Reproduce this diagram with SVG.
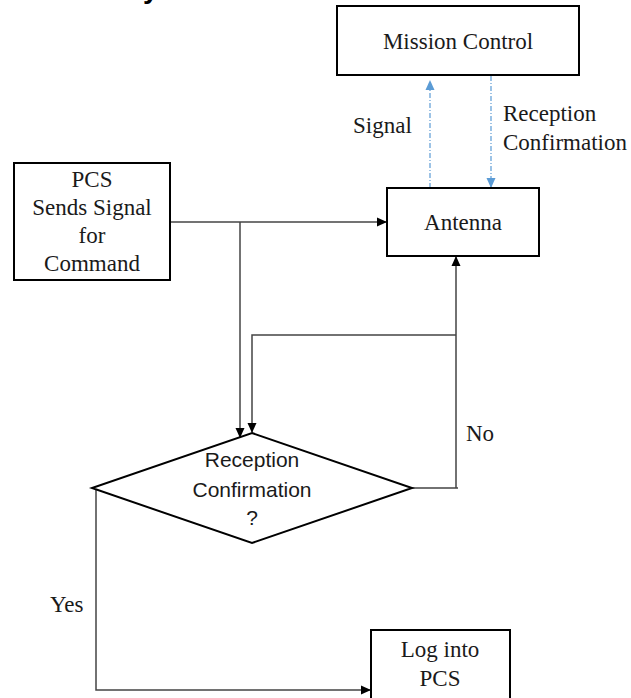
<svg xmlns="http://www.w3.org/2000/svg" width="631" height="698" viewBox="0 0 631 698">
<style>
.box{fill:#fff;stroke:#000;stroke-width:2}
.serif{font-family:'Liberation Serif','DejaVu Serif',serif;font-size:23px;fill:#1a1a1a;text-anchor:middle}
.sans{font-family:'Liberation Sans','DejaVu Sans',sans-serif;font-size:21px;fill:#1a1a1a;text-anchor:middle}
.lbl{font-family:'Liberation Serif','DejaVu Serif',serif;font-size:23px;fill:#1a1a1a}
.conn{fill:none;stroke:#444;stroke-width:1.5}
.blue{fill:none;stroke:#5b9bd5;stroke-width:1.2;stroke-dasharray:5 2 1 2}
</style>
<defs>
<marker id="ah" markerWidth="10" markerHeight="10" refX="9" refY="5" orient="auto" markerUnits="userSpaceOnUse">
<path d="M0,0.5 L10,5 L0,9.5 Z" fill="#000"/>
</marker>
<marker id="ahb" markerWidth="10" markerHeight="10" refX="9" refY="5" orient="auto" markerUnits="userSpaceOnUse">
<path d="M0,0.5 L10,5 L0,9.5 Z" fill="#5b9bd5"/>
</marker>
</defs>
<text x="143" y="-2" font-family="'Liberation Sans',Arial,sans-serif" font-size="28" font-weight="bold" fill="#000">y</text>
<g id="connectors">
<path class="conn" d="M170,222 H386" marker-end="url(#ah)"/>
<path class="conn" d="M240,222 V437" marker-end="url(#ah)"/>
<path class="conn" d="M456,335 H252 V432" marker-end="url(#ah)"/>
<path class="conn" d="M412,488 H458 M456,488 V257" marker-end="url(#ah)"/>
<path class="conn" d="M96,490 V690 H370" marker-end="url(#ah)"/>
<path class="blue" d="M430,188 V81" marker-end="url(#ahb)"/>
<path class="blue" d="M491,76 V187" marker-end="url(#ahb)"/>
<text class="lbl" x="353" y="133">Signal</text>
<text class="lbl" x="503" y="121">Reception</text>
<text class="lbl" x="503" y="150">Confirmation</text>
<text class="lbl" x="466" y="441">No</text>
<text class="lbl" x="50" y="612">Yes</text>
</g>
<g id="mission-control">
<rect class="box" x="337" y="6" width="242" height="69"/>
<text class="serif" x="458" y="49">Mission Control</text>
</g>
<g id="antenna">
<rect class="box" x="387" y="188" width="152" height="68"/>
<text class="serif" x="463" y="230">Antenna</text>
</g>
<g id="pcs">
<rect class="box" x="14" y="163" width="156" height="117"/>
<text class="serif" x="92" y="187">PCS</text>
<text class="serif" x="92" y="215">Sends Signal</text>
<text class="serif" x="92" y="243">for</text>
<text class="serif" x="92" y="271">Command</text>
</g>
<g id="decision">
<polygon points="252,433 412,488 252,543 92,488" fill="#fff" stroke="#000" stroke-width="2"/>
<text class="sans" x="252" y="467">Reception</text>
<text class="sans" x="252" y="497">Confirmation</text>
<text class="sans" x="252" y="525">?</text>
</g>
<g id="log-into-pcs">
<rect class="box" x="371" y="630" width="139" height="80"/>
<text class="serif" x="440" y="657">Log into</text>
<text class="serif" x="440" y="686">PCS</text>
</g>
</svg>
